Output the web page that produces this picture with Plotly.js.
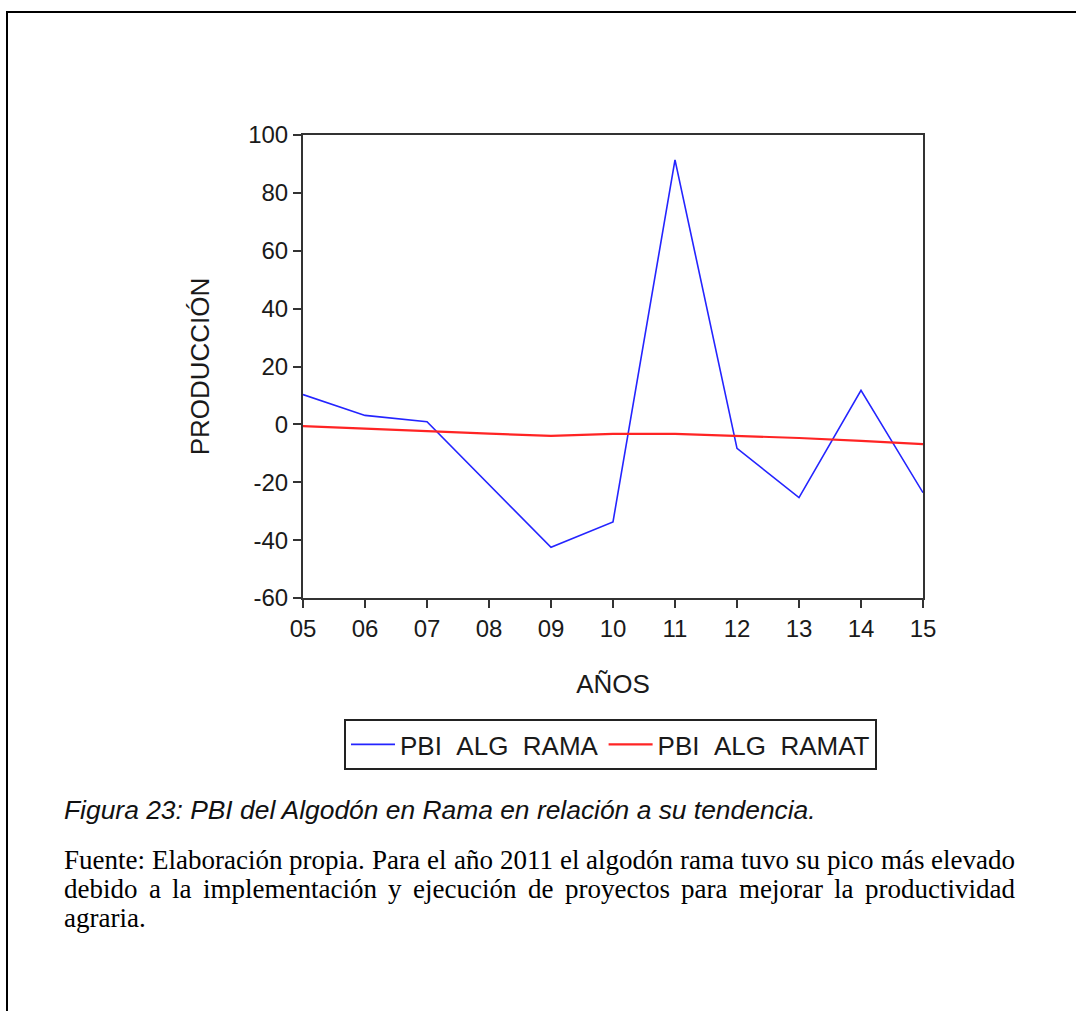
<!DOCTYPE html>
<html>
<head>
<meta charset="utf-8">
<script src="https://cdn.plot.ly/plotly-3.0.1.min.js"></script>
<style>
  html, body { margin: 0; padding: 0; background: #fff; overflow: hidden; }
  #frame { position: absolute; left: 6px; top: 11px; width: 3000px; height: 3000px;
           border-left: 2px solid #000; border-top: 2px solid #000; pointer-events: none; }
  #chart { position: absolute; left: 0; top: 0; width: 1076px; height: 1011px; }
</style>
</head>
<body>
<div id="chart"></div>
<div id="frame"></div>
<script>
// ---- data ----
const years = ['05', '06', '07', '08', '09', '10', '11', '12', '13', '14', '15'];
const pbiAlgRama  = [10.3, 3.1, 0.9, -20.8, -42.5, -33.7, 91.4, -8.3, -25.3, 11.8, -23.6];
const pbiAlgRamaT = [-0.6, -1.5, -2.5, -3.2, -4.0, -3.3, -3.3, -4.0, -4.7, -5.7, -6.8];
const seriesNames = ['PBI\u00a0\u00a0ALG\u00a0\u00a0RAMA', 'PBI\u00a0\u00a0ALG\u00a0\u00a0RAMAT'];
const yTicks = [-60, -40, -20, 0, 20, 40, 60, 80, 100];

const captionText = 'Figura 23: PBI del Algodón en Rama en relación a su tendencia.';
const sourceLines = [
  'Fuente: Elaboración propia. Para el año 2011 el algodón rama tuvo su pico más elevado',
  'debido a la implementación y ejecución de proyectos para mejorar la productividad',
  'agraria.'
];

// ---- layout geometry ----
const W = 1076, H = 1011;
const M = { l: 303, r: 153, t: 135, b: 413 };
const pw = W - M.l - M.r, ph = H - M.t - M.b;
const px2paper = x => (x - M.l) / pw;
const py2paper = y => (H - M.b - y) / ph;

const serif = "Liberation Serif, Times New Roman, serif";
const sans = "Arial, Liberation Sans, sans-serif";

const annotations = [];
annotations.push({
  xref: 'paper', yref: 'paper', x: px2paper(62), y: py2paper(810),
  xanchor: 'left', yanchor: 'middle', showarrow: false,
  text: '<i>' + captionText + '</i>',
  font: { family: sans, size: 26.4, color: '#111' }
});

// justified source text, one annotation per word
const cv = document.createElement('canvas').getContext('2d');
const srcSize = 27;
cv.font = srcSize + "px 'Liberation Serif'";
const left = 62, right = 1013;
const lineY = [860, 889, 918];
sourceLines.forEach((ln, i) => {
  const words = ln.split(' ');
  const justify = i < sourceLines.length - 1;
  const widths = words.map(w => cv.measureText(w).width);
  const total = widths.reduce((a, b) => a + b, 0);
  const gap = justify ? (right - left - total) / (words.length - 1) : cv.measureText(' ').width;
  let x = left;
  words.forEach((w, k) => {
    annotations.push({
      xref: 'paper', yref: 'paper', x: px2paper(x), y: py2paper(lineY[i]),
      xanchor: 'left', yanchor: 'middle', showarrow: false, text: w,
      font: { family: serif, size: srcSize, color: '#000' }
    });
    x += widths[k] + gap;
  });
});

const traces = [
  { x: years, y: pbiAlgRama, type: 'scatter', mode: 'lines', name: seriesNames[0],
    line: { color: '#2424ff', width: 1.6 } },
  { x: years, y: pbiAlgRamaT, type: 'scatter', mode: 'lines', name: seriesNames[1],
    line: { color: '#ff2424', width: 2.2 } }
];

const axisCommon = {
  showgrid: false, zeroline: false, showline: true, linecolor: '#333', linewidth: 2,
  mirror: true, ticks: 'outside', tickcolor: '#333', tickwidth: 2, ticklen: 8,
  tickfont: { family: sans, size: 24, color: '#1a1a1a' }, automargin: false
};

const layout = {
  width: W, height: H,
  margin: M,
  paper_bgcolor: 'rgba(0,0,0,0)', plot_bgcolor: '#fff',
  showlegend: true,
  legend: {
    orientation: 'h', x: px2paper(344), y: py2paper(719), xanchor: 'left', yanchor: 'top',
    bordercolor: '#222', borderwidth: 2, bgcolor: '#fff', itemwidth: 44,
    font: { family: sans, size: 26, color: '#1a1a1a' }
  },
  xaxis: Object.assign({}, axisCommon, {
    type: 'category', range: [0, 10],
    title: { text: 'AÑOS', font: { family: sans, size: 26, color: '#1a1a1a' }, standoff: 34 }
  }),
  yaxis: Object.assign({}, axisCommon, {
    range: [-60, 100], tickvals: yTicks, ticktext: yTicks.map(String),
    title: { text: 'PRODUCCIÓN', font: { family: sans, size: 26, color: '#1a1a1a' }, standoff: 31 }
  }),
  annotations: annotations
};

Plotly.newPlot('chart', traces, layout, { staticPlot: true, displayModeBar: false });
</script>
</body>
</html>
